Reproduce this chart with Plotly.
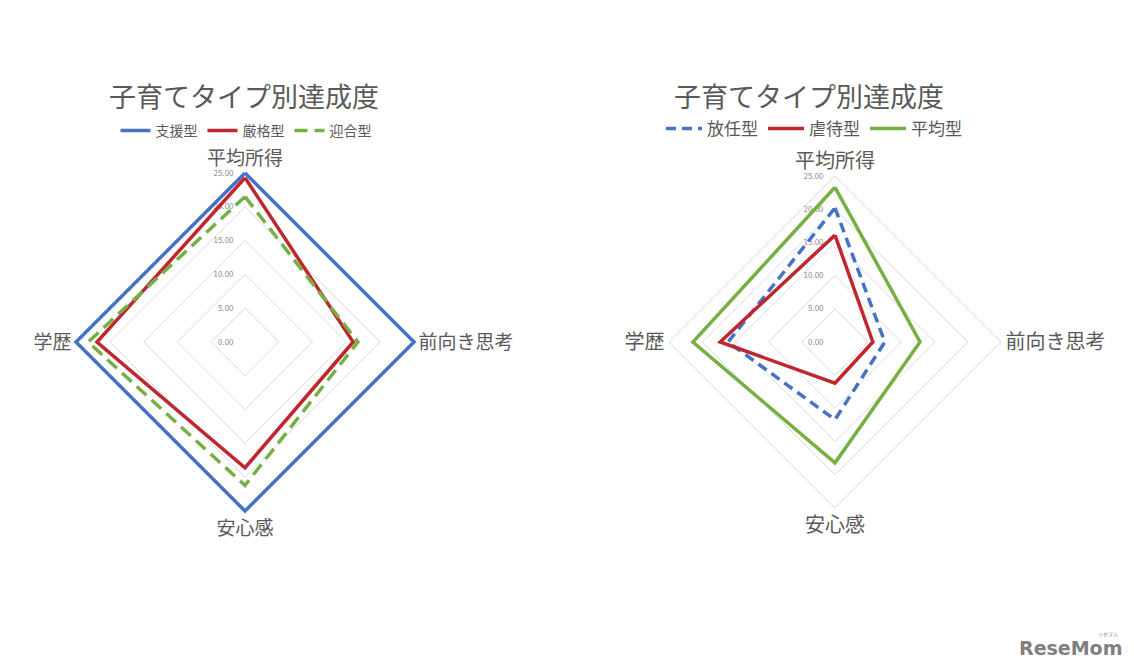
import plotly.graph_objects as go

categories = ["平均所得", "前向き思考", "安心感", "学歴"]

# Left chart
left_names = ["支援型", "厳格型", "迎合型"]
shien = [25.0, 25.0, 25.0, 25.0]
genkaku = [24.3, 16.0, 18.6, 21.9]
geigo = [21.5, 16.7, 21.2, 23.2]

# Right chart
right_names = ["放任型", "虐待型", "平均型"]
honin = [20.2, 7.5, 11.7, 16.1]
gyakutai = [16.1, 5.7, 6.2, 17.3]
heikin = [23.3, 12.8, 18.2, 21.4]

radial_ticks = [0, 5, 10, 15, 20, 25]
title_text = "子育てタイプ別達成度"

BLUE = "#4472C4"
RED = "#C0262D"
GREEN = "#76B043"
GRAY = "#595959"
GRID = "#D9D9D9"
FONT = "Noto Sans CJK JP"
RMAX = 25.6  # a little headroom so lines on the outer ring are not clipped
PAD = "\u2002\u2002\u00a0"  # gap between tick labels and the radial axis


def closed(v):
    return list(v) + [v[0]]


thetas = closed(categories)

fig = go.Figure()

left_series = [
    (left_names[0], shien, BLUE, "solid"),
    (left_names[1], genkaku, RED, "solid"),
    (left_names[2], geigo, GREEN, "13px,7px"),
]
for name, vals, col, dash in left_series:
    fig.add_trace(go.Scatterpolar(
        r=closed(vals), theta=thetas, mode="lines", name=name,
        line=dict(color=col, width=3.5, dash=dash),
        subplot="polar", legend="legend",
    ))

right_series = [
    (right_names[0], honin, BLUE, "10px,6px"),
    (right_names[1], gyakutai, RED, "solid"),
    (right_names[2], heikin, GREEN, "solid"),
]
for name, vals, col, dash in right_series:
    fig.add_trace(go.Scatterpolar(
        r=closed(vals), theta=thetas, mode="lines", name=name,
        line=dict(color=col, width=3.5, dash=dash),
        subplot="polar2", legend="legend2",
    ))


def polar_cfg(xd, yd, lab_size):
    return dict(
        domain=dict(x=xd, y=yd),
        bgcolor="white",
        gridshape="linear",
        radialaxis=dict(
            range=[0, RMAX], tickvals=radial_ticks,
            ticktext=[f"{t:.2f}{PAD}" for t in radial_ticks],
            angle=90, tickangle=90, side="counterclockwise", showline=False, ticks="",
            gridcolor=GRID, gridwidth=1, layer="below traces",
            tickfont=dict(size=8, color="#8C8C8C", family=FONT),
        ),
        angularaxis=dict(
            categoryorder="array", categoryarray=categories,
            direction="clockwise", rotation=90, layer="below traces",
            showgrid=False, showline=False,
            ticks="", tickfont=dict(size=lab_size, color=GRAY, family=FONT),
        ),
    )


W, H = 1134, 669
lcx, lcy, lr = 245, 342, 169 * RMAX / 25
rcx, rcy, rr = 835, 342, 166 * RMAX / 25

fig.update_layout(
    width=W, height=H,
    margin=dict(l=0, r=0, t=0, b=0),
    paper_bgcolor="white",
    polar=polar_cfg([(lcx - lr) / W, (lcx + lr) / W],
                    [(H - lcy - lr) / H, (H - lcy + lr) / H], 19),
    polar2=polar_cfg([(rcx - rr) / W, (rcx + rr) / W],
                     [(H - rcy - rr) / H, (H - rcy + rr) / H], 20),
    legend=dict(orientation="h", x=246 / W, xanchor="center",
                y=1 - 131 / H, yanchor="middle",
                font=dict(size=14, color=GRAY, family=FONT),
                bgcolor="rgba(0,0,0,0)", itemwidth=30),
    legend2=dict(orientation="h", x=814 / W, xanchor="center",
                 y=1 - 129 / H, yanchor="middle",
                 font=dict(size=17, color=GRAY, family=FONT),
                 bgcolor="rgba(0,0,0,0)", itemwidth=36),
    showlegend=True,
    annotations=[
        dict(text=title_text, x=244 / W, y=1 - 95 / H, xref="paper", yref="paper",
             showarrow=False, xanchor="center", yanchor="middle",
             font=dict(size=27, color=GRAY, family=FONT)),
        dict(text=title_text, x=809 / W, y=1 - 96 / H, xref="paper", yref="paper",
             showarrow=False, xanchor="center", yanchor="middle",
             font=dict(size=27, color=GRAY, family=FONT)),
        dict(text="<b>ReseMom</b>", x=1070 / W, y=1 - 648 / H, xref="paper", yref="paper",
             showarrow=False, xanchor="center", yanchor="middle",
             font=dict(size=19, color="#7F7F7F", family="DejaVu Sans")),
        dict(text="リセマム", x=1108 / W, y=1 - 634 / H, xref="paper", yref="paper",
             showarrow=False, xanchor="center", yanchor="middle",
             font=dict(size=5, color="#7F7F7F", family=FONT)),
    ],
)

fig.write_html("out.html", config={"displayModeBar": False},
               post_script="document.body.style.margin='0';")
